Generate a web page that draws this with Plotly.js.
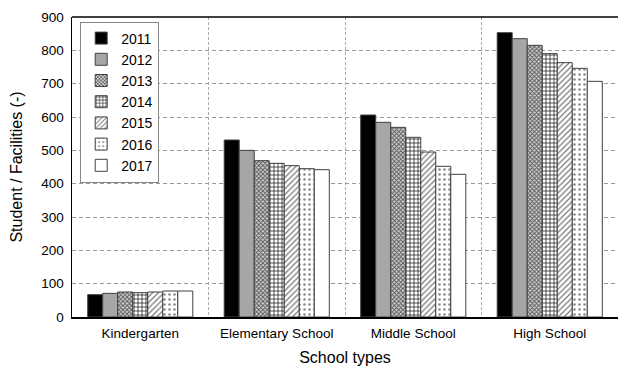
<!DOCTYPE html>
<html>
<head>
<meta charset="utf-8">
<script src="https://cdn.plot.ly/plotly-3.0.1.min.js"></script>
<style>html,body{margin:0;padding:0;background:#fff;}#chart{width:619px;height:370px;}</style>
</head>
<body>
<div id="chart"></div>
<script>
const categories = ["Kindergarten", "Elementary School", "Middle School", "High School"];
const years = ["2011", "2012", "2013", "2014", "2015", "2016", "2017"];
const v2011 = [67, 531, 606, 853];
const v2012 = [71, 500, 584, 835];
const v2013 = [75, 469, 569, 815];
const v2014 = [73, 461, 539, 790];
const v2015 = [75, 454, 495, 763];
const v2016 = [78, 445, 452, 746];
const v2017 = [78, 442, 428, 707];
const seriesValues = [v2011, v2012, v2013, v2014, v2015, v2016, v2017];

const styles = [
  {color: "#000000", pattern: {shape: ""}},
  {color: "#a6a6a6", pattern: {shape: ""}},
  {color: "#ffffff", pattern: {shape: "x", size: 3, solidity: 0.5, fgcolor: "#555", bgcolor: "#d0d0d0"}},
  {color: "#ffffff", pattern: {shape: "+", size: 4, solidity: 0.3, fgcolor: "#000", bgcolor: "#ffffff"}},
  {color: "#ffffff", pattern: {shape: "/", size: 4, solidity: 0.3, fgcolor: "#777", bgcolor: "#ffffff"}},
  {color: "#ffffff", pattern: {shape: ".", size: 5, solidity: 0.2, fgcolor: "#888", bgcolor: "#ffffff"}},
  {color: "#ffffff", pattern: {shape: ""}}
];

const traces = years.map((y, i) => ({
  type: "bar",
  name: y,
  x: categories,
  y: seriesValues[i],
  marker: {
    color: styles[i].color,
    pattern: styles[i].pattern,
    line: {color: "#404040", width: 1}
  }
}));

const layout = {
  width: 619, height: 370,
  margin: {l: 72, r: 1, t: 17, b: 53},
  paper_bgcolor: "#fff", plot_bgcolor: "#fff",
  font: {family: "Liberation Sans, Arial, sans-serif", size: 13, color: "#000"},
  barmode: "group",
  bargap: 0.23,
  bargroupgap: 0,
  showlegend: true,
  legend: {
    x: 0.015, y: 0.985, xanchor: "left", yanchor: "top",
    bgcolor: "#fff", bordercolor: "#888", borderwidth: 1,
    font: {size: 14}, itemwidth: 30, tracegroupgap: 0
  },
  xaxis: {
    type: "category",
    tickson: "boundaries",
    ticks: "",
    showgrid: true, gridcolor: "#aaa", griddash: "3px,2px", gridwidth: 1,
    showline: true, linecolor: "#000", linewidth: 1.5, mirror: false,
    tickfont: {size: 13.5}, ticklabelstandoff: 3,
    title: {text: "School types", font: {size: 16}, standoff: 12}
  },
  yaxis: {
    range: [0, 900], dtick: 100,
    showgrid: true, gridcolor: "#999", griddash: "4px,3px", gridwidth: 1,
    zeroline: false,
    showline: true, linecolor: "#000", linewidth: 1.5,
    ticks: "", tickfont: {size: 13.5}, ticklabelstandoff: 4,
    title: {text: "Student / Facilities (-)", font: {size: 16}, standoff: 14}
  },
  shapes: [{type: "line", xref: "paper", yref: "paper", x0: 0, x1: 1, y0: 1, y1: 1, line: {color: "#000", width: 1.5}}]
};

Plotly.newPlot("chart", traces, layout, {displayModeBar: false, staticPlot: true});
</script>
</body>
</html>
